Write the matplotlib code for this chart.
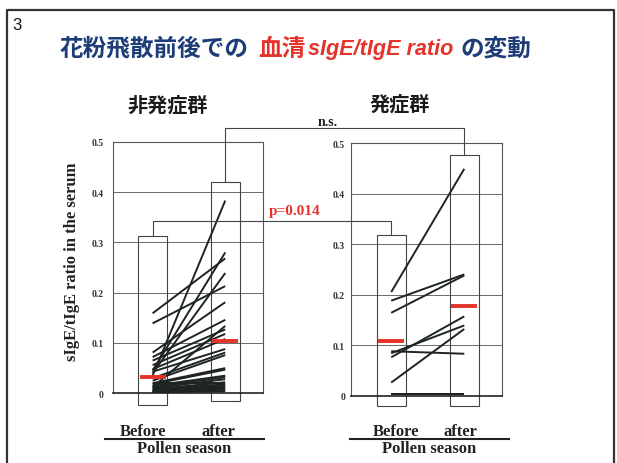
import matplotlib
matplotlib.use('Agg')
import matplotlib.pyplot as plt
from matplotlib.patches import Rectangle
from matplotlib.lines import Line2D

# values
left_before = [0.035, 0.159, 0.139, 0.045, 0.040, 0.081, 0.072, 0.065, 0.056, 0.048,
               0.043, 0.030, 0.025, 0.020, 0.018, 0.015, 0.012, 0.010, 0.008, 0.006,
               0.005, 0.004, 0.003, 0.012, 0.002, 0.020, 0.010, 0.007]
left_after = [0.383, 0.268, 0.213, 0.280, 0.239, 0.181, 0.146, 0.127, 0.118, 0.108,
              0.088, 0.081, 0.076, 0.050, 0.047, 0.035, 0.032, 0.028, 0.022, 0.015,
              0.012, 0.009, 0.006, 0.134, 0.004, 0.020, 0.010, 0.018]
right_before = [0.205, 0.188, 0.164, 0.088, 0.084, 0.076, 0.026, 0.003, 0.004]
right_after = [0.449, 0.240, 0.238, 0.083, 0.139, 0.157, 0.132, 0.003, 0.004]

left_median = [0.033, 0.103]
right_median = [0.108, 0.177]
left_box_top = [0.313, 0.420]
left_box_bottom = [-0.023, -0.015]
right_box_top = [0.317, 0.477]
right_box_bottom = [-0.020, -0.020]

yticks = [0, 0.1, 0.2, 0.3, 0.4, 0.5]
ytick_labels = ['0', '0.1', '0.2', '0.3', '0.4', '0.5']
p_text = 'p=0.014'
ns_text = 'n.s.'

W, H = 617, 464
NAVY = '#1d3c78'
RED = '#e5322a'
CJK = ['Noto Sans CJK JP', 'DejaVu Sans']
SERIF = 'Liberation Serif'

fig = plt.figure(figsize=(W / 100, H / 100), dpi=100)


def fx(x):
    return x / W


def fy(y):
    return 1 - y / H


def panel(rect_px, before, after, median, top, bottom, pad):
    x0, y0, x1, y1 = rect_px
    ax = fig.add_axes([fx(x0), fy(y1), fx(x1 - x0), (y1 - y0) / H])
    ax.set_xlim(-0.55, 1.52)
    ax.set_ylim(0, 0.5)
    ax.set_xticks([])
    ax.set_yticks(yticks)
    ax.set_yticklabels(ytick_labels, fontfamily=SERIF, fontweight='bold', fontsize=7)
    ax.tick_params(axis='y', length=0, pad=pad, colors='#333333')
    ax.grid(axis='y', color='#6a6a6a', lw=0.7)
    for s in ax.spines.values():
        s.set_color('#555555')
        s.set_linewidth(0.8)
    ax.spines['bottom'].set_color('#222222')
    ax.spines['bottom'].set_linewidth(1.2)
    for b, a in zip(before, after):
        ax.plot([0, 1], [b, a], color='#1e2424', lw=1.4, solid_capstyle='butt', zorder=3)
    for i in range(2):
        ax.add_patch(Rectangle((i - 0.2, bottom[i]), 0.4, top[i] - bottom[i], fill=False,
                               ec='#444444', lw=0.8, clip_on=False, zorder=2))
        ax.plot([i - 0.18, i + 0.18], [median[i], median[i]], color=RED, lw=2.8,
                solid_capstyle='butt', zorder=4)
    return ax


axL = panel((112.7, 142.7, 263, 394.3), left_before, left_after, left_median,
            left_box_top, left_box_bottom, 6.5)
axR = panel((351, 144, 502.3, 396.7), right_before, right_after, right_median,
            right_box_top, right_box_bottom, 4.3)


def to_fig(ax, x, y):
    return fig.transFigure.inverted().transform(ax.transData.transform((x, y)))


def bracket(i, level_px, top_l, top_r):
    p1 = to_fig(axL, i, top_l)
    p2 = to_fig(axR, i, top_r)
    ly = fy(level_px)
    fig.add_artist(Line2D([p1[0], p1[0], p2[0], p2[0]], [p1[1], ly, ly, p2[1]],
                          color='#444444', lw=0.8))


bracket(0, 221.7, left_box_top[0], right_box_top[0])
bracket(1, 128.8, left_box_top[1], right_box_top[1])
fig.text(fx(295), fy(212), p_text, color=RED, fontfamily=SERIF, fontweight='bold',
         fontsize=11, ha='center', va='center')
fig.text(fx(327.5), fy(122), ns_text, color='#222222', fontfamily=SERIF,
         fontweight='bold', fontsize=10, ha='center', va='center')

# y label
fig.text(fx(72), fy(262), 'sIgE/tIgE ratio in the serum', rotation=90, fontfamily=SERIF,
         fontweight='bold', fontsize=12, ha='center', va='center', color='#222222')

# group names
fig.text(fx(168), fy(105), '非発症群', family=CJK, fontweight='bold', fontsize=14.5,
         ha='center', va='center', color='#1a1a1a')
fig.text(fx(400), fy(104), '発症群', family=CJK, fontweight='bold', fontsize=14.5,
         ha='center', va='center', color='#1a1a1a')

# x labels under each panel
for bx, ax_x, line_x in [(143, 218.3, (105, 264)), (396, 460.7, (350, 509))]:
    fig.text(fx(bx), fy(436.5), 'Before', fontfamily=SERIF, fontweight='bold',
             fontsize=12, ha='center', va='baseline', color='#222222')
    fig.text(fx(ax_x), fy(436.5), 'after', fontfamily=SERIF, fontweight='bold',
             fontsize=12, ha='center', va='baseline', color='#222222')
    fig.add_artist(Line2D([fx(line_x[0]), fx(line_x[1])], [fy(439.5), fy(439.5)],
                          color='#222222', lw=1.5))
    fig.text(fx((line_x[0] + line_x[1]) / 2), fy(453), 'Pollen season', fontfamily=SERIF,
             fontweight='bold', fontsize=12, ha='center', va='baseline', color='#222222')

# slide frame and number
fig.add_artist(Line2D([fx(7.3), fx(7.3), fx(614), fx(614)], [0, fy(10.7), fy(10.7), 0],
                      color='#333333', lw=1.6))
fig.text(fx(12), fy(30), '3', fontfamily='Liberation Sans', fontsize=12,
         va='baseline', color='#111111')

# title built from pieces
renderer = fig.canvas.get_renderer()
segments = [
    ('花粉飛散前後での', NAVY, dict(family=CJK, fontweight='bold', fontsize=17), 9),
    ('血清', RED, dict(family=CJK, fontweight='bold', fontsize=17), 3),
    ('sIgE/tIgE ratio', RED, dict(family='Liberation Sans', fontweight='bold',
                                   fontstyle='italic', fontsize=15.6), 7),
    ('の変動', NAVY, dict(family=CJK, fontweight='bold', fontsize=17), 0),
]
x = 60
for s, color, kw, gap in segments:
    t = fig.text(fx(x), fy(55.5), s, color=color, va='baseline', **kw)
    bb = t.get_window_extent(renderer)
    x = bb.x1 + gap

fig.savefig('out.png', dpi=100)
